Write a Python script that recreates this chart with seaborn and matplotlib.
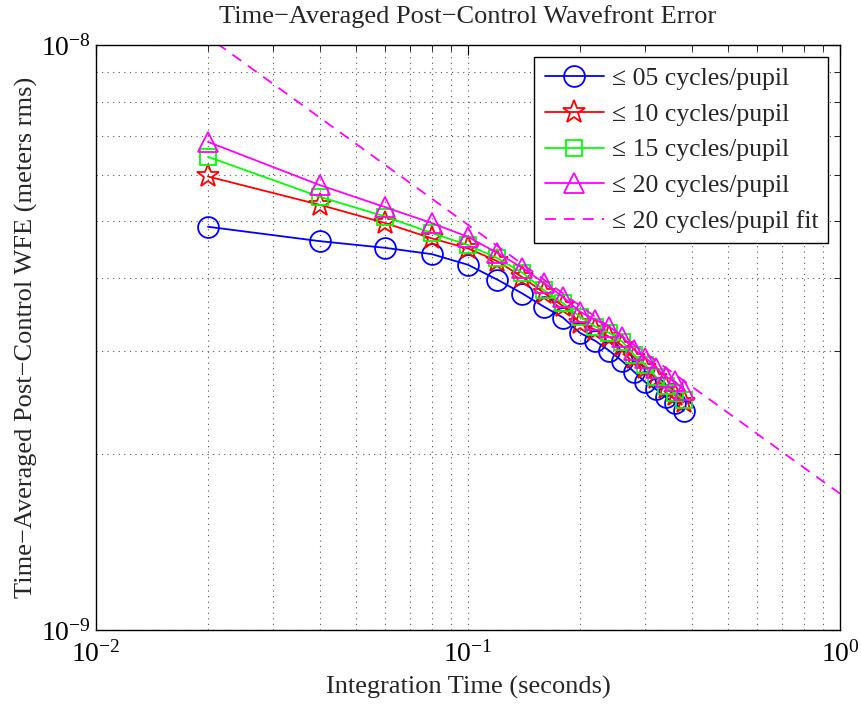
import matplotlib
matplotlib.use("Agg")
import matplotlib.pyplot as plt
import seaborn as sns
import numpy as np
from matplotlib.ticker import LogLocator, LogFormatterMathtext, NullFormatter

# ---------------- data ----------------
integration_time = [0.02, 0.04, 0.06, 0.08, 0.10, 0.12, 0.14, 0.16, 0.18, 0.20,
                    0.22, 0.24, 0.26, 0.28, 0.30, 0.32, 0.34, 0.36, 0.38]

wfe_05 = [4.89, 4.62, 4.50, 4.39, 4.21, 3.97, 3.76, 3.57, 3.42, 3.22,
          3.12, 3.00, 2.88, 2.76, 2.65, 2.58, 2.50, 2.44, 2.37]
wfe_10 = [5.96, 5.33, 4.96, 4.67, 4.49, 4.27, 4.01, 3.77, 3.58, 3.35,
          3.26, 3.17, 3.06, 2.92, 2.81, 2.70, 2.59, 2.52, 2.45]
wfe_15 = [6.44, 5.50, 5.09, 4.77, 4.55, 4.32, 4.08, 3.81, 3.62, 3.43,
          3.30, 3.22, 3.11, 2.95, 2.84, 2.71, 2.61, 2.54, 2.47]
wfe_20 = [6.83, 5.76, 5.28, 4.96, 4.70, 4.41, 4.16, 3.92, 3.71, 3.50,
          3.39, 3.30, 3.17, 3.01, 2.92, 2.81, 2.71, 2.66, 2.57]
value_unit = 1e-9  # values above are in nanometers

fit_time = [0.01, 1.0]
fit_wfe = [14.2, 1.71]

labels = ["≤ 05 cycles/pupil", "≤ 10 cycles/pupil", "≤ 15 cycles/pupil",
          "≤ 20 cycles/pupil", "≤ 20 cycles/pupil fit"]

title = "Time−Averaged Post−Control Wavefront Error"
xlabel = "Integration Time (seconds)"
ylabel = "Time−Averaged Post−Control WFE (meters rms)"

# ---------------- style ----------------
sns.set_theme(style="white")
plt.rcParams["font.family"] = ["Liberation Serif", "DejaVu Serif"]
plt.rcParams["mathtext.fontset"] = "custom"
plt.rcParams["mathtext.rm"] = "Liberation Serif"
plt.rcParams["mathtext.it"] = "Liberation Serif:italic"
plt.rcParams["mathtext.bf"] = "Liberation Serif:bold"

fig = plt.figure(figsize=(8.62, 7.04), dpi=100)
ax = fig.add_axes([96 / 862, (704 - 630) / 704, (840 - 96) / 862, (630 - 45) / 704])

t = np.array(integration_time)
series = [
    (wfe_05, "#0000ff", "o", 15),
    (wfe_10, "#ff0000", "*", 17),
    (wfe_15, "#00ff00", "s", 11),
    (wfe_20, "#ff00ff", "^", 15),
]
for (vals, col, mk, ms), lab in zip(series, labels[:4]):
    sns.lineplot(x=t, y=np.array(vals) * value_unit, ax=ax, color=col,
                 marker=mk, markersize=ms, markerfacecolor="none",
                 markeredgecolor=col, markeredgewidth=1.3, linewidth=1.3,
                 label=lab, sort=False, estimator=None)

sns.lineplot(x=np.array(fit_time), y=np.array(fit_wfe) * value_unit, ax=ax,
             color="#ff00ff", linewidth=1.3, label=labels[4],
             sort=False, estimator=None)
ax.lines[-1].set_dashes([6, 4.5])

ax.set_xscale("log")
ax.set_yscale("log")
ax.set_xlim(1e-2, 1e0)
ax.set_ylim(1e-9, 1e-8)

for axis in (ax.xaxis, ax.yaxis):
    axis.set_major_locator(LogLocator(base=10, numticks=10))
    axis.set_minor_locator(LogLocator(base=10, subs=np.arange(2, 10), numticks=20))
    axis.set_major_formatter(LogFormatterMathtext())
    axis.set_minor_formatter(NullFormatter())

ax.tick_params(which="both", direction="in", top=True, right=True,
               colors="black", labelsize=20)
ax.tick_params(which="major", length=7, width=0.8)
ax.tick_params(which="minor", length=4, width=0.6)
ax.tick_params(axis="x", pad=8)

ax.grid(True, which="both", linestyle=(0, (1, 4)), color="#555555", linewidth=0.8)
for s in ax.spines.values():
    s.set_color("black")
    s.set_linewidth(1.0)

ax.set_title(title, fontsize=19, pad=16)
ax.set_xlabel(xlabel, fontsize=19, labelpad=6)
ax.set_ylabel(ylabel, fontsize=19, labelpad=2)

leg = ax.legend(loc="upper right", fontsize=18.5, frameon=True, fancybox=False,
                edgecolor="black", framealpha=1, borderaxespad=0.45,
                handlelength=2.3, handletextpad=0.3, labelspacing=0.5,
                borderpad=0.4)
leg.get_frame().set_linewidth(1.0)

fig.savefig("out.png", dpi=100)
